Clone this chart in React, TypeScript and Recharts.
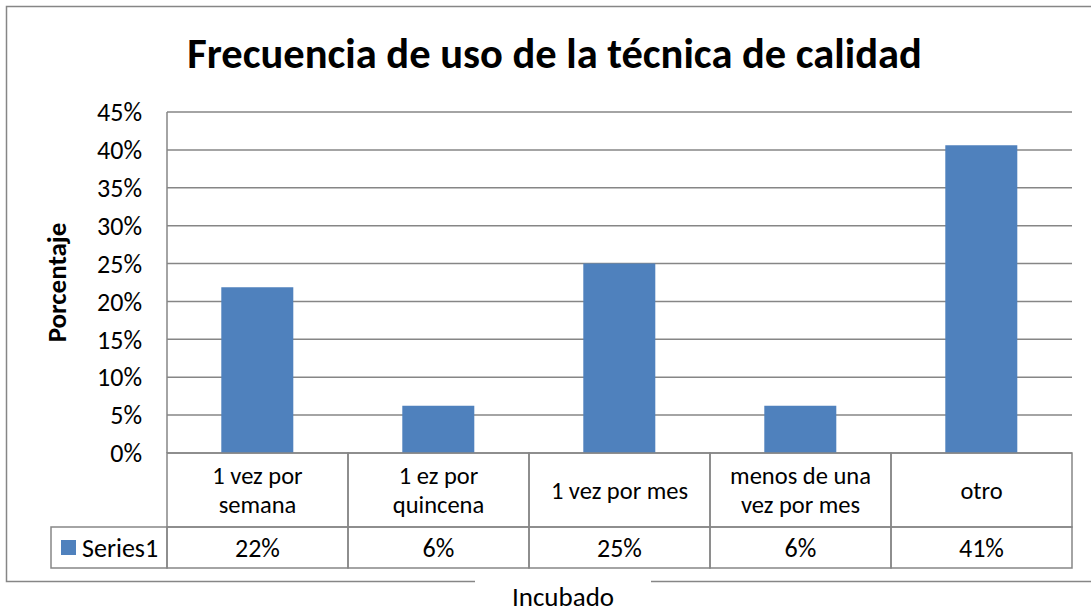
import React from 'react';
import { BarChart, Bar, XAxis, YAxis, CartesianGrid } from 'recharts';

const categories = ['1 vez por semana', '1 ez por quincena', '1 vez por mes', 'menos de una vez por mes', 'otro'];
const series1 = [21.875, 6.25, 25, 6.25, 40.625];
const yTicks = [0, 5, 10, 15, 20, 25, 30, 35, 40, 45];

const seriesName = 'Series1';
const title = 'Frecuencia de uso de la técnica de calidad';
const yTitle = 'Porcentaje';
const xTitle = 'Incubado';

const FONT = 'Carlito, Calibri, Lato, sans-serif';
const GRID = '#868686';
const BAR = '#4F81BD';
const FS = 26;

const W = 1091;
const H = 615;
const PLOT_LEFT = 167;
const PLOT_RIGHT = 1072;
const CAT_ROW = 74;
const VAL_ROW = 41;
const LEGEND_LEFT = 51;
const CELL_W = (PLOT_RIGHT - PLOT_LEFT) / categories.length;

const data = categories.map((name, i) => ({ name, value: series1[i] }));

// naive word wrap, Excel breaks these around 13 chars
function wrap(label: string, max = 13): string[] {
  const lines: string[] = [];
  let cur = '';
  label.split(' ').forEach((w) => {
    const next = cur ? cur + ' ' + w : w;
    if (next.length > max && cur) {
      lines.push(cur);
      cur = w;
    } else cur = next;
  });
  if (cur) lines.push(cur);
  return lines;
}

const CategoryCell = (props: any) => {
  const { x, y, payload } = props;
  const lines = wrap(String(payload.value));
  const lh = 29;
  const mid = y + CAT_ROW / 2;
  const start = mid - ((lines.length - 1) * lh) / 2;
  return (
    <g>
      <rect x={x - CELL_W / 2} y={y} width={CELL_W} height={CAT_ROW} fill="none" stroke={GRID} strokeWidth={1.5} />
      <text x={x} y={start} textAnchor="middle" fontFamily={FONT} fontSize={24.5} fill="#000">
        {lines.map((l, i) => (
          <tspan key={i} x={x} y={start + i * lh} dy="0.35em">
            {l}
          </tspan>
        ))}
      </text>
    </g>
  );
};

const ValueCell = (props: any) => {
  const { x, y, index } = props;
  const v = series1[index];
  return (
    <g>
      {index === 0 && (
        <g>
          <rect x={LEGEND_LEFT} y={y} width={x - CELL_W / 2 - LEGEND_LEFT} height={VAL_ROW} fill="none" stroke={GRID} strokeWidth={1.5} />
          <rect x={LEGEND_LEFT + 10} y={y + 13} width={15} height={15} fill={BAR} />
          <text x={LEGEND_LEFT + 31} y={y + VAL_ROW / 2} dy="0.35em" fontFamily={FONT} fontSize={FS} fill="#000">
            {seriesName}
          </text>
        </g>
      )}
      <rect x={x - CELL_W / 2} y={y} width={CELL_W} height={VAL_ROW} fill="none" stroke={GRID} strokeWidth={1.5} />
      <text x={x} y={y + VAL_ROW / 2} dy="0.35em" textAnchor="middle" fontFamily={FONT} fontSize={FS} fill="#000">
        {Math.round(v) + '%'}
      </text>
    </g>
  );
};

const YTitle = (props: any) => {
  const { viewBox } = props;
  const cx = viewBox.x + 57;
  const cy = viewBox.y + viewBox.height / 2;
  return (
    <text x={cx} y={cy} transform={`rotate(-90 ${cx} ${cy})`} dy="0.35em" textAnchor="middle" fontFamily={FONT} fontWeight="bold" fontSize={27} fill="#000">
      {yTitle}
    </text>
  );
};

export default function App() {
  return (
    <div style={{ position: 'absolute', left: 0, top: 0, width: W, height: H, background: '#fff' }}>
      <BarChart
        width={W}
        height={H}
        data={data}
        margin={{ top: 112, right: W - PLOT_RIGHT, bottom: 47, left: 0 }}
        barCategoryGap="30%"
      >
        <CartesianGrid vertical={false} stroke={GRID} strokeWidth={1.5} />
        <YAxis
          width={PLOT_LEFT}
          domain={[0, 45]}
          ticks={yTicks}
          interval={0}
          tickFormatter={(v: number) => `${v}%`}
          tickLine={false}
          tickSize={0}
          tickMargin={25}
          axisLine={{ stroke: GRID, strokeWidth: 1.5 }}
          tick={{ fontFamily: FONT, fontSize: FS, fill: '#000' }}
          label={{ content: <YTitle /> }}
        />
        <XAxis
          dataKey="name"
          height={CAT_ROW}
          tickLine={false}
          tickSize={0}
          tickMargin={0}
          interval={0}
          axisLine={false}
          tick={<CategoryCell />}
        />
        <XAxis
          xAxisId="vals"
          dataKey="name"
          height={VAL_ROW}
          tickLine={false}
          tickSize={0}
          tickMargin={0}
          interval={0}
          axisLine={false}
          tick={<ValueCell />}
        />
        <Bar dataKey="value" fill={BAR} isAnimationActive={false} />
      </BarChart>
      <svg width={W} height={H} style={{ position: 'absolute', left: 0, top: 0, pointerEvents: 'none' }}>
        <path d="M475 581.5 H6.5 V6.5 H1091 M651 581.5 H1091" fill="none" stroke={GRID} strokeWidth={1.5} />
        <text x={554.5} y={68} textAnchor="middle" fontFamily={FONT} fontWeight="bold" fontSize={42.5} fill="#000">
          {title}
        </text>
        <text x={563} y={606} textAnchor="middle" fontFamily={FONT} fontSize={27} fill="#000">
          {xTitle}
        </text>
      </svg>
    </div>
  );
}
